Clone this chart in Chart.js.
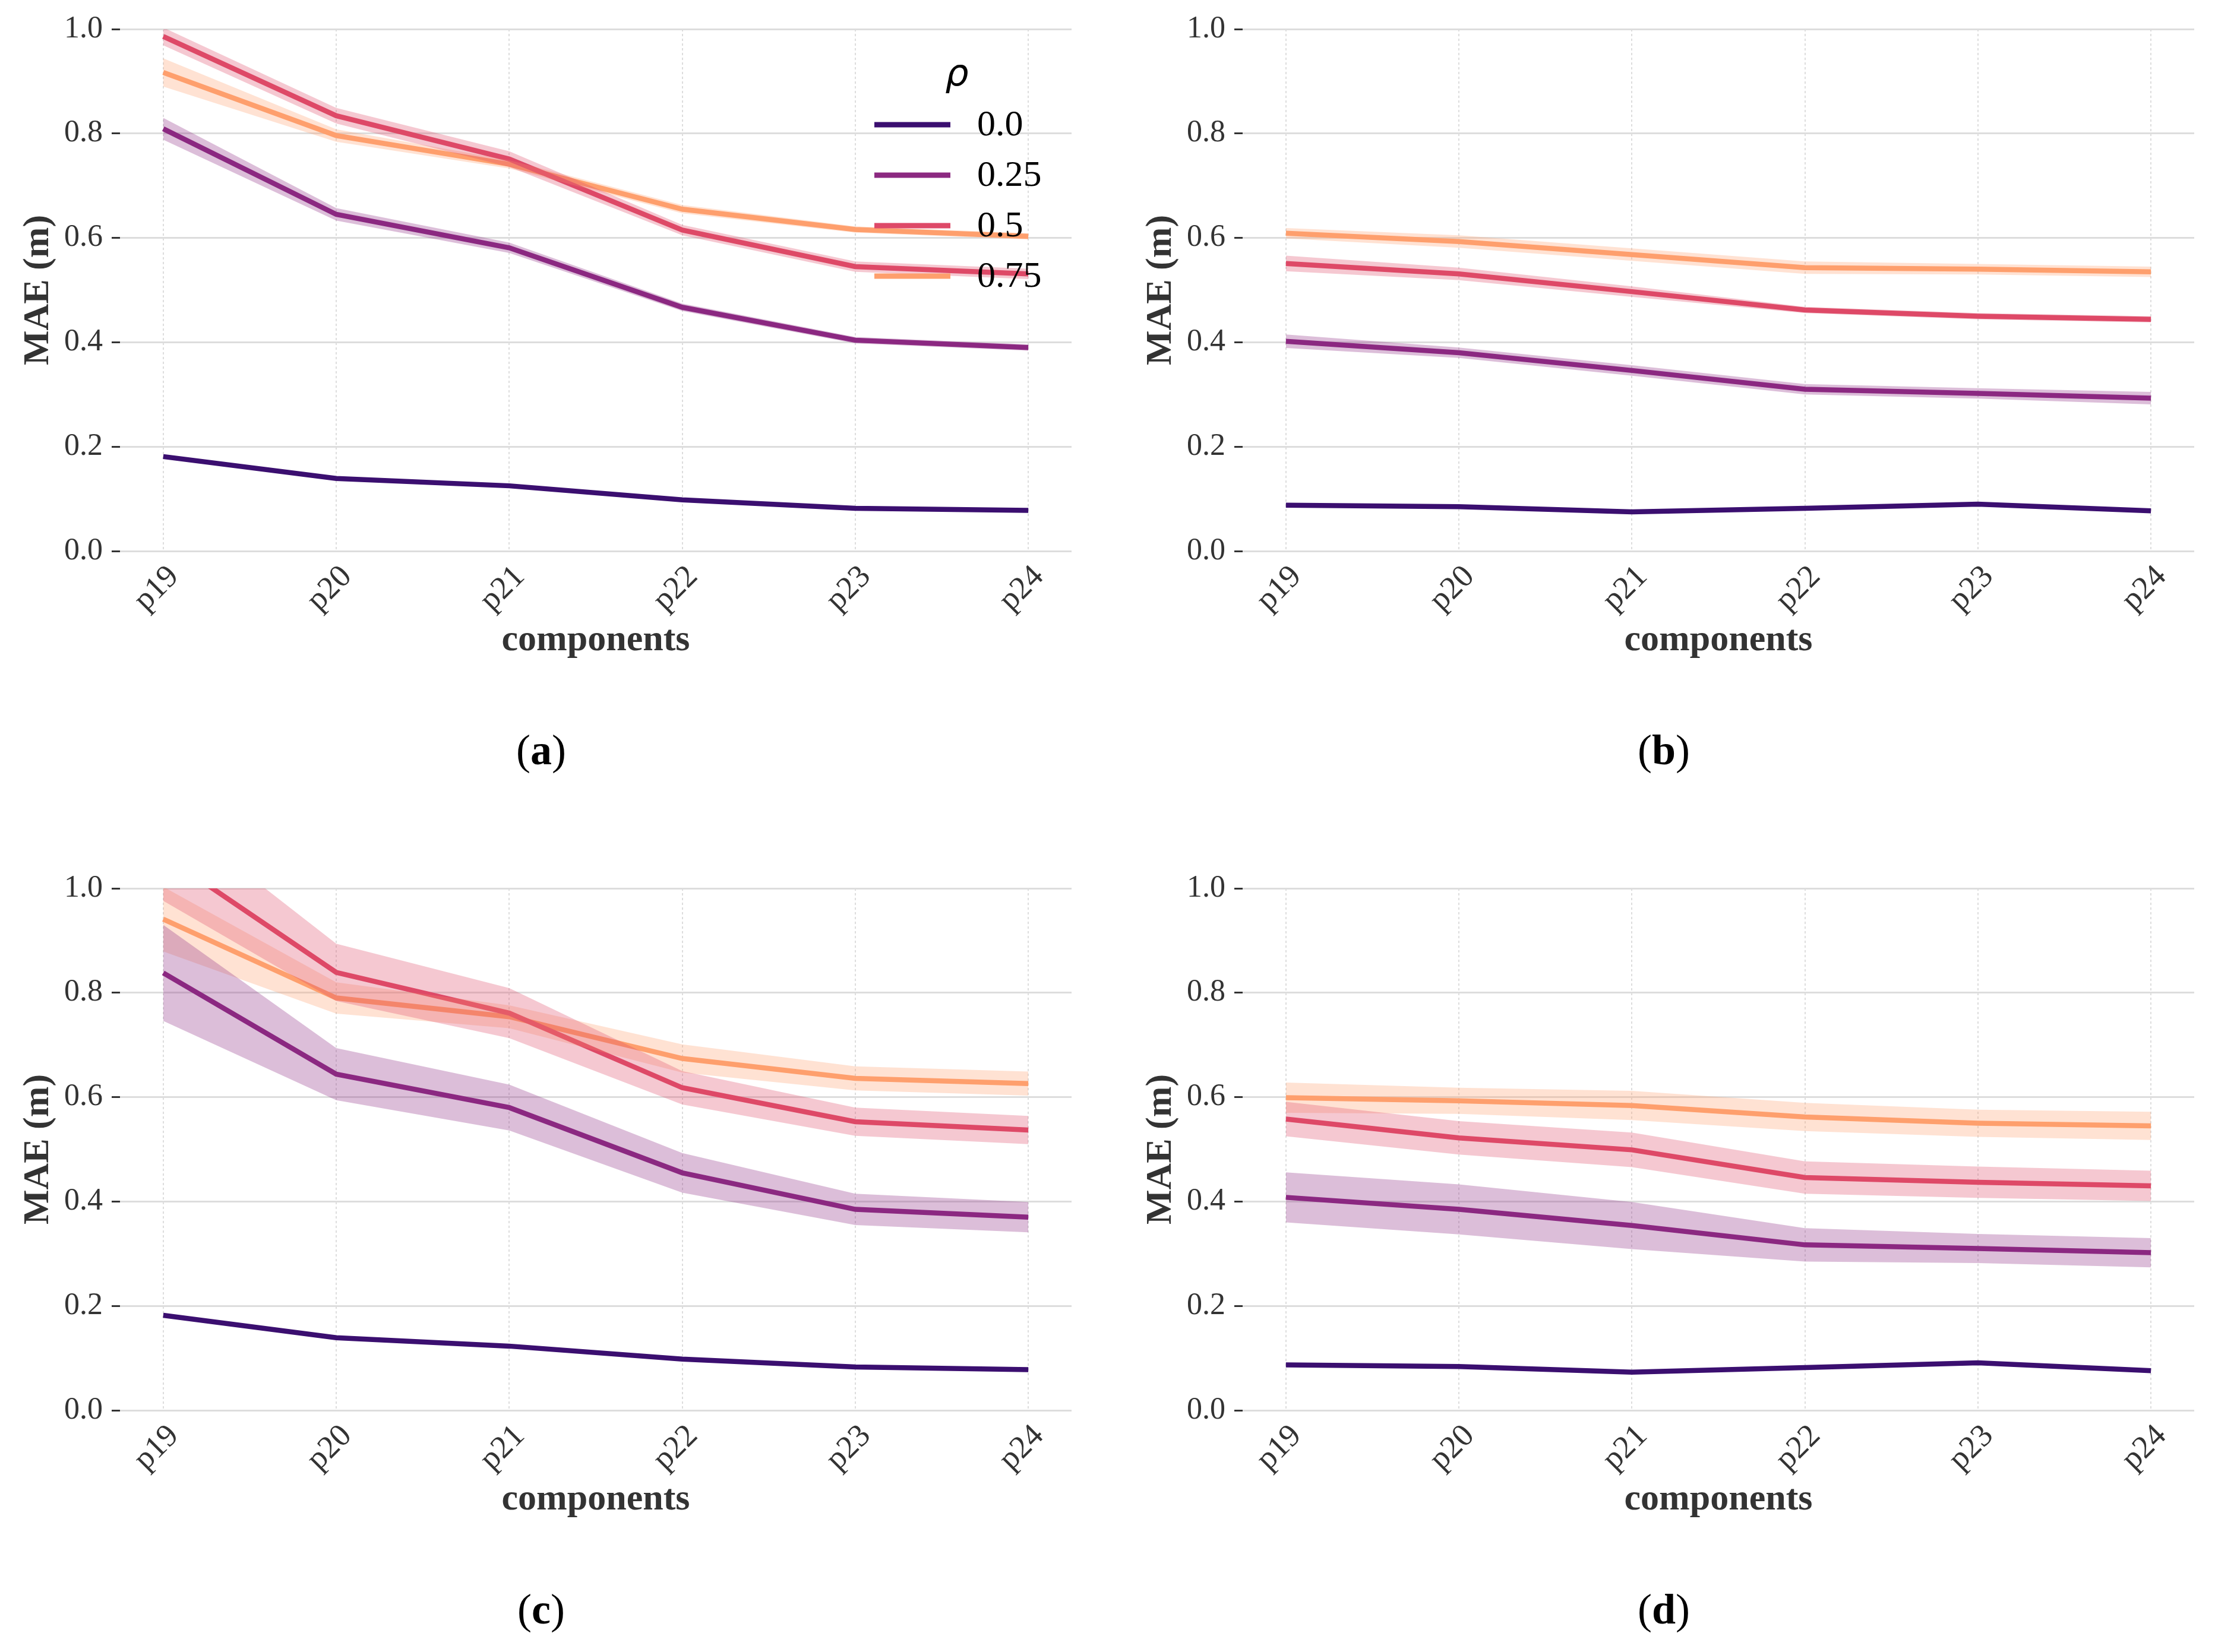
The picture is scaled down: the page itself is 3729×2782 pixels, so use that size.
<!DOCTYPE html>
<html>
<head>
<meta charset="utf-8">
<script src="https://cdn.jsdelivr.net/npm/chart.js@4.4.1/dist/chart.umd.min.js"></script>
<style>
html, body { margin: 0; padding: 0; background: #fff; overflow: hidden; width: 3729px; height: 2782px; }
.panel { position: absolute; }
</style>
</head>
<body>
<div class="panel" style="left:0px;top:0px"><canvas id="pa"></canvas></div>
<div class="panel" style="left:1890px;top:0px"><canvas id="pb"></canvas></div>
<div class="panel" style="left:0px;top:1447px"><canvas id="pc"></canvas></div>
<div class="panel" style="left:1890px;top:1447px"><canvas id="pd"></canvas></div>
<script>
// data
var components = ['p19', 'p20', 'p21', 'p22', 'p23', 'p24'];
var rhoLabels = ['0.0', '0.25', '0.5', '0.75'];
var yTicks = [0, 0.2, 0.4, 0.6, 0.8, 1.0];

// (a)
var a_rho00 = [0.181, 0.139, 0.125, 0.098, 0.082, 0.078];
var a_rho025 = [0.809, 0.645, 0.581, 0.467, 0.404, 0.390];
var a_rho05 = [0.986, 0.834, 0.751, 0.615, 0.545, 0.531];
var a_rho075 = [0.917, 0.796, 0.741, 0.655, 0.616, 0.603];
var a_err00 = [0.003, 0.003, 0.003, 0.002, 0.002, 0.002];
var a_err025 = [0.021, 0.012, 0.010, 0.007, 0.006, 0.006];
var a_err05 = [0.017, 0.015, 0.015, 0.010, 0.010, 0.010];
var a_err075 = [0.027, 0.012, 0.008, 0.008, 0.006, 0.006];

// (b)
var b_rho00 = [0.088, 0.085, 0.075, 0.082, 0.090, 0.077];
var b_rho025 = [0.402, 0.380, 0.346, 0.310, 0.302, 0.293];
var b_rho05 = [0.551, 0.531, 0.497, 0.462, 0.450, 0.444];
var b_rho075 = [0.609, 0.593, 0.568, 0.543, 0.540, 0.535];
var b_err00 = [0.002, 0.002, 0.002, 0.002, 0.002, 0.002];
var b_err025 = [0.013, 0.010, 0.010, 0.010, 0.010, 0.012];
var b_err05 = [0.015, 0.012, 0.010, 0.006, 0.006, 0.006];
var b_err075 = [0.010, 0.012, 0.012, 0.012, 0.010, 0.010];

// (c)
var c_rho00 = [0.182, 0.139, 0.123, 0.098, 0.083, 0.078];
var c_rho025 = [0.838, 0.644, 0.580, 0.455, 0.385, 0.370];
var c_rho05 = [1.064, 0.839, 0.761, 0.618, 0.553, 0.537];
var c_rho075 = [0.941, 0.790, 0.754, 0.674, 0.636, 0.626];
var c_err00 = [0.003, 0.003, 0.002, 0.002, 0.002, 0.002];
var c_err025 = [0.092, 0.050, 0.044, 0.038, 0.030, 0.029];
var c_err05 = [0.088, 0.055, 0.048, 0.032, 0.027, 0.027];
var c_err075 = [0.062, 0.030, 0.022, 0.027, 0.023, 0.023];

// (d)
var d_rho00 = [0.087, 0.084, 0.073, 0.082, 0.091, 0.076];
var d_rho025 = [0.408, 0.385, 0.354, 0.317, 0.310, 0.302];
var d_rho05 = [0.558, 0.522, 0.499, 0.446, 0.437, 0.430];
var d_rho075 = [0.599, 0.593, 0.584, 0.562, 0.550, 0.545];
var d_err00 = [0.002, 0.002, 0.002, 0.002, 0.002, 0.002];
var d_err025 = [0.048, 0.048, 0.045, 0.032, 0.028, 0.028];
var d_err05 = [0.033, 0.032, 0.033, 0.031, 0.030, 0.029];
var d_err075 = [0.029, 0.025, 0.028, 0.027, 0.026, 0.027];

var lineColors = ['#3b0f70', '#8c2981', '#de4968', '#fe9f6d'];
var bandColors = ['rgba(59,15,112,0.3)', 'rgba(140,41,129,0.3)', 'rgba(222,73,104,0.3)', 'rgba(254,159,109,0.3)'];
var serif = '"Liberation Serif", "Times New Roman", serif';

var W = 1840, H = 1335;

function pts(vals, errs, sign) {
	return vals.map(function(v, i) {
		return { x: i, y: v + sign * errs[i] };
	});
}

function buildDatasets(means, errs) {
	var sets = [];
	for (var k = 0; k < means.length; k++) {
		sets.push({ data: pts(means[k], errs[k], 1), borderWidth: 0, pointRadius: 0, fill: '+1', backgroundColor: bandColors[k] });
		sets.push({ data: pts(means[k], errs[k], -1), borderWidth: 0, pointRadius: 0, fill: false });
	}
	for (var k = 0; k < means.length; k++) {
		sets.push({ label: rhoLabels[k], data: pts(means[k], errs[k], 0), borderColor: lineColors[k], borderWidth: 8.5, pointRadius: 0, fill: false, tension: 0 });
	}
	return sets;
}

var captionPlugin = {
	id: 'caption',
	afterDraw: function(chart, args, opts) {
		var ctx = chart.ctx;
		ctx.save();
		ctx.fillStyle = '#000';
		ctx.textBaseline = 'middle';
		var f1 = '72px ' + serif, f2 = 'bold 72px ' + serif;
		ctx.font = f1; var wp = ctx.measureText('(').width;
		ctx.font = f2; var wl = ctx.measureText(opts.letter).width;
		var x = 911 - (wp * 2 + wl) / 2, y = 1268;
		ctx.textAlign = 'left';
		ctx.font = f1; ctx.fillText('(', x, y);
		ctx.font = f2; ctx.fillText(opts.letter, x + wp, y);
		ctx.font = f1; ctx.fillText(')', x + wp + wl, y);
		ctx.restore();
	}
};

var rhoLegend = {
	id: 'rhoLegend',
	afterDatasetsDraw: function(chart, args, opts) {
		if (!opts.show) return;
		var ctx = chart.ctx;
		ctx.save();
		ctx.fillStyle = '#000';
		ctx.font = 'italic 62px "DejaVu Sans"';
		ctx.textAlign = 'center';
		ctx.textBaseline = 'alphabetic';
		ctx.fillText('\u03c1', 1611, 144);
		ctx.font = '62px ' + serif;
		ctx.textAlign = 'left';
		ctx.textBaseline = 'middle';
		for (var k = 0; k < rhoLabels.length; k++) {
			var y = 210 + k * 85;
			ctx.strokeStyle = lineColors[k];
			ctx.lineWidth = 9;
			ctx.beginPath();
			ctx.moveTo(1472, y);
			ctx.lineTo(1600, y);
			ctx.stroke();
			ctx.fillText(rhoLabels[k], 1645, y + 2);
		}
		ctx.restore();
	}
};

function makePanel(id, means, errs, letter, showLegend) {
	var canvas = document.getElementById(id);
	canvas.width = W; canvas.height = H;
	canvas.style.width = W + 'px'; canvas.style.height = H + 'px';
	return new Chart(canvas.getContext('2d'), {
		type: 'line',
		data: { datasets: buildDatasets(means, errs) },
		plugins: [captionPlugin, rhoLegend],
		options: {
			responsive: false,
			animation: false,
			devicePixelRatio: 1,
			layout: { padding: { left: 0, top: 49, right: 36, bottom: 207 } },
			plugins: {
				legend: { display: false },
				tooltip: { enabled: false },
				caption: { letter: letter },
				rhoLegend: { show: showLegend }
			},
			scales: {
				x: {
					type: 'linear',
					min: -0.25,
					max: 5.25,
					afterBuildTicks: function(s) {
						s.ticks = components.map(function(c, i) { return { value: i }; });
					},
					afterFit: function(s) { s.height = 200; },
					ticks: {
						callback: function(v) { return components[v]; },
						autoSkip: false,
						minRotation: 45,
						maxRotation: 45,
						padding: 12,
						labelOffset: 18,
						color: '#333',
						font: { family: serif, size: 54 }
					},
					grid: { color: '#dddddd', lineWidth: 2, drawTicks: false },
					border: { display: false, dash: [4, 4] },
					title: {
						display: true,
						text: 'components',
						color: '#333',
						font: { family: serif, size: 62, weight: 'bold' },
						padding: { top: 0, bottom: 12 }
					}
				},
				y: {
					min: 0,
					max: 1,
					afterBuildTicks: function(s) {
						s.ticks = yTicks.map(function(v) { return { value: v }; });
					},
					afterFit: function(s) { s.width = 202; },
					ticks: {
						callback: function(v) { return v.toFixed(1); },
						padding: 15,
						color: '#333',
						font: { family: serif, size: 52 }
					},
					grid: { color: '#dddddd', lineWidth: 3, tickColor: '#333', tickWidth: 3, tickLength: 14 },
					border: { display: false },
					title: {
						display: true,
						text: 'MAE (m)',
						color: '#333',
						font: { family: serif, size: 62, weight: 'bold' },
						padding: { top: 28, bottom: 0 }
					}
				}
			}
		}
	});
}

makePanel('pa', [a_rho00, a_rho025, a_rho05, a_rho075], [a_err00, a_err025, a_err05, a_err075], 'a', true);
makePanel('pb', [b_rho00, b_rho025, b_rho05, b_rho075], [b_err00, b_err025, b_err05, b_err075], 'b', false);
makePanel('pc', [c_rho00, c_rho025, c_rho05, c_rho075], [c_err00, c_err025, c_err05, c_err075], 'c', false);
makePanel('pd', [d_rho00, d_rho025, d_rho05, d_rho075], [d_err00, d_err025, d_err05, d_err075], 'd', false);
</script>
</body>
</html>
